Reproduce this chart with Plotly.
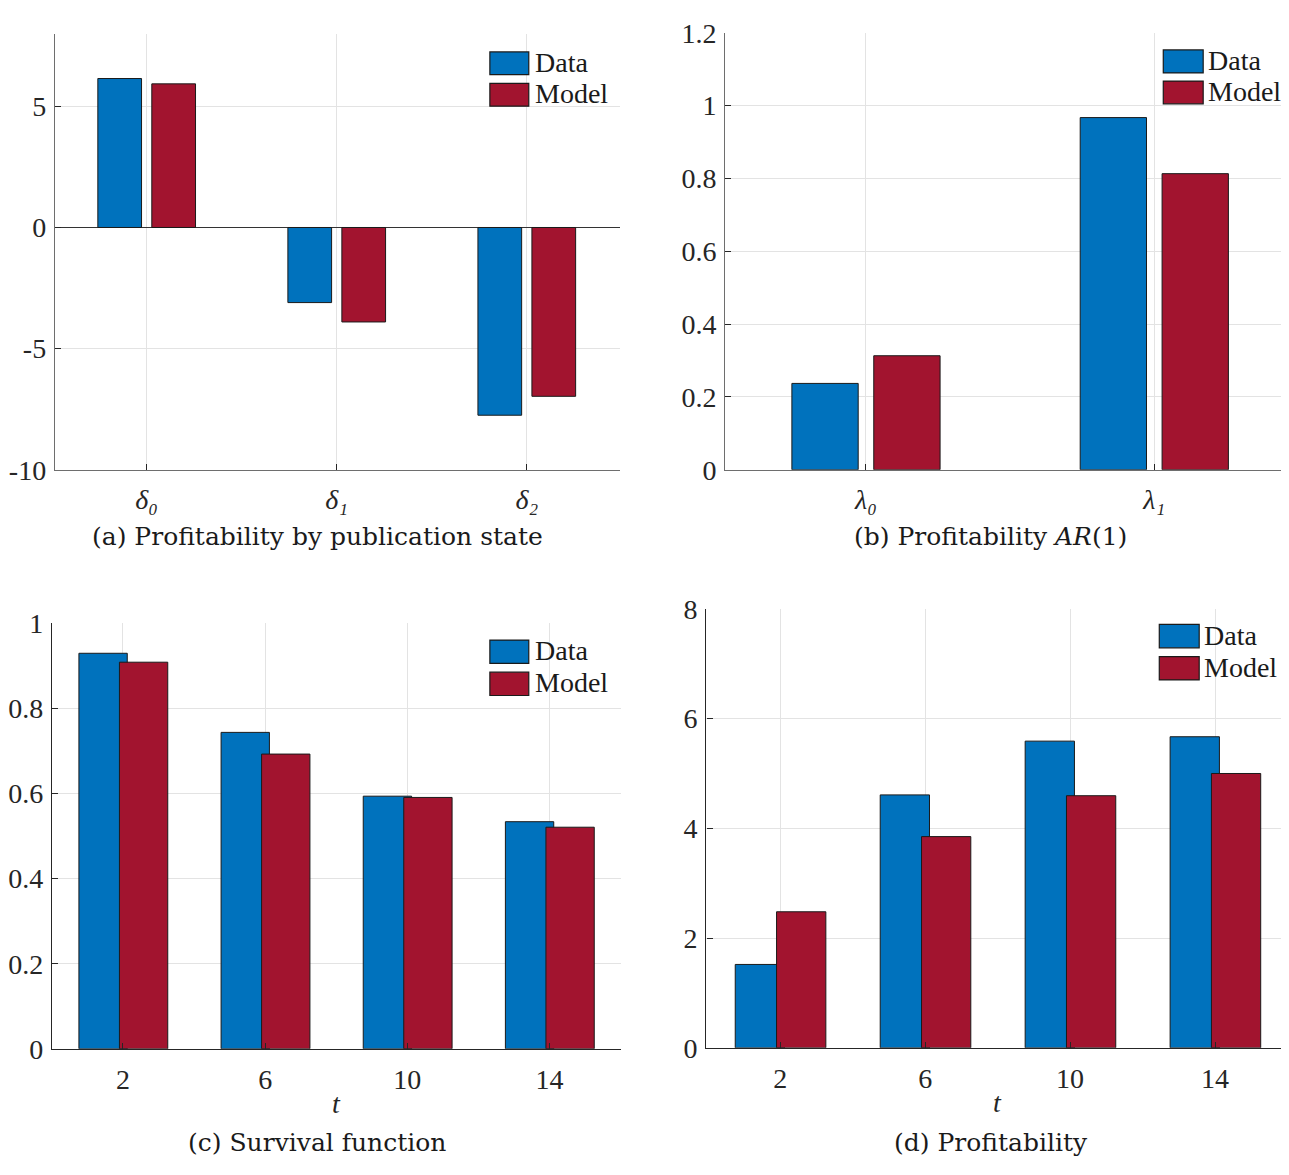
import plotly.graph_objects as go

# ---------------- data ----------------
cats_a = [1, 2, 3]
labels_a = ["δ₀", "δ₁", "δ₂"]
data_a = [6.15, -3.1, -7.75]
model_a = [5.93, -3.9, -6.97]

cats_b = [1, 2]
labels_b = ["λ₀", "λ₁"]
data_b = [0.237, 0.967]
model_b = [0.313, 0.813]

cats_cd = [1, 2, 3, 4]
labels_cd = ["2", "6", "10", "14"]
data_c = [0.930, 0.744, 0.594, 0.534]
model_c = [0.909, 0.693, 0.591, 0.521]
data_d = [1.52, 4.61, 5.59, 5.67]
model_d = [2.48, 3.85, 4.595, 5.00]

captions = ["(a) Profitability by publication state",
            "(b) Profitability <i>AR</i>(1)",
            "(c) Survival function",
            "(d) Profitability"]
series_names = ["Data", "Model"]
xlabel_cd = "t"

BLUE = "#0072BD"
RED = "#A2142F"
PAGE_OFF = 8            # browser body margin
W, H = 1289 - 2 * PAGE_OFF, 1175 - 2 * PAGE_OFF
TICKFONT = dict(family="Liberation Serif", size=28, color="#262626")
ITALFONT = dict(family="Liberation Serif", size=28, color="#262626", style="italic")
CAPFONT = dict(family="DejaVu Serif", size=25, color="#1a1a1a")
GRID = "#e3e3e3"
RIGHT_EDGE = PAGE_OFF + W   # last visible pixel column of the figure


def px(x):
    return (x - PAGE_OFF) / W


def py(y):
    return 1 - (y - PAGE_OFF) / H


fig = go.Figure()

# layout in reference pixels: plot box, first category pixel, category spacing
panels = [
    dict(ax="", cats=cats_a, labels=labels_a, d=data_a, m=model_a,
         xd=(52, 618), c1=144, sp=190.5, yd=(19, 467), yr=[-10, 8],
         yt=[-10, -5, 0, 5], ytt=["-10", "-5", "0", "5"],
         off=(-0.257, 0.027), wid=0.230, xfont=ITALFONT,
         leg=(488, 527, 37.7, 61, 70, 93.5, 531), cap=(315, 536), tlab=None,
         axcol="#6e6e6e"),
    dict(ax="2", cats=cats_b, labels=labels_b, d=data_b, m=model_b,
         xd=(724, 1289), c1=865, sp=289, yd=(18, 467), yr=[0, 1.2],
         yt=[0, 0.2, 0.4, 0.6, 0.8, 1.0, 1.2], ytt=["0", "0.2", "0.4", "0.6", "0.8", "1", "1.2"],
         off=(-0.257, 0.027), wid=0.230, xfont=ITALFONT,
         leg=(1163, 1203, 35.7, 59.3, 67.7, 91, 1206), cap=(990, 536), tlab=None,
         axcol="#6e6e6e"),
    dict(ax="3", cats=cats_cd, labels=labels_cd, d=data_c, m=model_c,
         xd=(49, 619), c1=120.25, sp=142.5, yd=(625, 1062), yr=[0, 1],
         yt=[0, 0.2, 0.4, 0.6, 0.8, 1.0], ytt=["0", "0.2", "0.4", "0.6", "0.8", "1"],
         off=(-0.31, -0.025), wid=0.34, xfont=TICKFONT,
         leg=(488, 527, 642, 666, 675, 699, 531), cap=(315, 1158), tlab=(334, 1118),
         axcol="#262626"),
    dict(ax="4", cats=cats_cd, labels=labels_cd, d=data_d, m=model_d,
         xd=(705, 1289), c1=779, sp=145.3, yd=(610, 1061), yr=[0, 8],
         yt=[0, 2, 4, 6, 8], ytt=["0", "2", "4", "6", "8"],
         off=(-0.31, -0.025), wid=0.34, xfont=TICKFONT,
         leg=(1159, 1199, 626, 650, 659, 683, 1202), cap=(990, 1158), tlab=(997, 1117),
         axcol="#262626"),
]

shapes = []
annotations = []

for i, p in enumerate(panels):
    xa = "x" + p["ax"]
    ya = "y" + p["ax"]
    for vals, col, off, name in [(p["d"], BLUE, p["off"][0], series_names[0]),
                                 (p["m"], RED, p["off"][1], series_names[1])]:
        fig.add_trace(go.Bar(
            x=p["cats"], y=vals, name=name, xaxis=xa, yaxis=ya,
            offset=off, width=p["wid"],
            marker=dict(color=col, line=dict(color="#1a1a1a", width=1)),
            showlegend=False,
        ))
    left_px = p["xd"][0]
    right_px = min(p["xd"][1], RIGHT_EDGE)
    xr = [1 - (p["c1"] - left_px) / p["sp"], 1 + (right_px - p["c1"]) / p["sp"]]
    xkey = "xaxis" + p["ax"]
    ykey = "yaxis" + p["ax"]
    fig.update_layout(**{
        xkey: dict(domain=[px(left_px), px(right_px)], range=xr,
                   anchor=ya, tickvals=p["cats"], ticktext=p["labels"],
                   showgrid=True, gridcolor=GRID, gridwidth=1,
                   showline=True, linecolor=p["axcol"], linewidth=1.3,
                   ticks="inside", ticklen=6, tickcolor="#262626", tickwidth=1.2,
                   tickfont=p["xfont"], zeroline=False, fixedrange=True,
                   ticklabelstandoff=5),
        ykey: dict(domain=[py(p["yd"][1]), py(p["yd"][0])], range=p["yr"],
                   anchor=xa, tickvals=p["yt"], ticktext=p["ytt"],
                   showgrid=True, gridcolor=GRID, gridwidth=1,
                   showline=True, linecolor=p["axcol"], linewidth=1.3,
                   ticks="inside", ticklen=6, tickcolor="#262626", tickwidth=1.2,
                   tickfont=TICKFONT, fixedrange=True,
                   zeroline=(i == 0), zerolinecolor="#333333", zerolinewidth=1.3,
                   ticklabelstandoff=2),
    })
    # legend (drawn as patches + text)
    x0, x1, dy0, dy1, my0, my1, tx = p["leg"]
    for (yy0, yy1, col, name) in [(dy0, dy1, BLUE, series_names[0]),
                                  (my0, my1, RED, series_names[1])]:
        shapes.append(dict(type="rect", xref="paper", yref="paper",
                           x0=px(x0), x1=px(x1), y0=py(yy1), y1=py(yy0),
                           fillcolor=col, line=dict(color="#1a1a1a", width=1.2)))
        annotations.append(dict(text=name, xref="paper", yref="paper",
                                x=px(tx), y=py((yy0 + yy1) / 2 - 1),
                                xanchor="left", yanchor="middle", showarrow=False,
                                font=dict(family="Liberation Serif", size=28, color="#1a1a1a")))
    # caption
    annotations.append(dict(text=captions[i], xref="paper", yref="paper",
                            x=px(p["cap"][0]), y=py(p["cap"][1]),
                            xanchor="center", yanchor="middle", showarrow=False,
                            font=CAPFONT))
    if p["tlab"] is not None:
        annotations.append(dict(text=xlabel_cd, xref="paper", yref="paper",
                                x=px(p["tlab"][0]), y=py(p["tlab"][1]),
                                xanchor="center", yanchor="middle", showarrow=False,
                                font=ITALFONT))

fig.update_layout(
    width=W, height=H, margin=dict(l=0, r=0, t=0, b=0),
    paper_bgcolor="white", plot_bgcolor="white",
    barmode="overlay", showlegend=False,
    shapes=shapes, annotations=annotations,
)

fig.write_html("out.html")
